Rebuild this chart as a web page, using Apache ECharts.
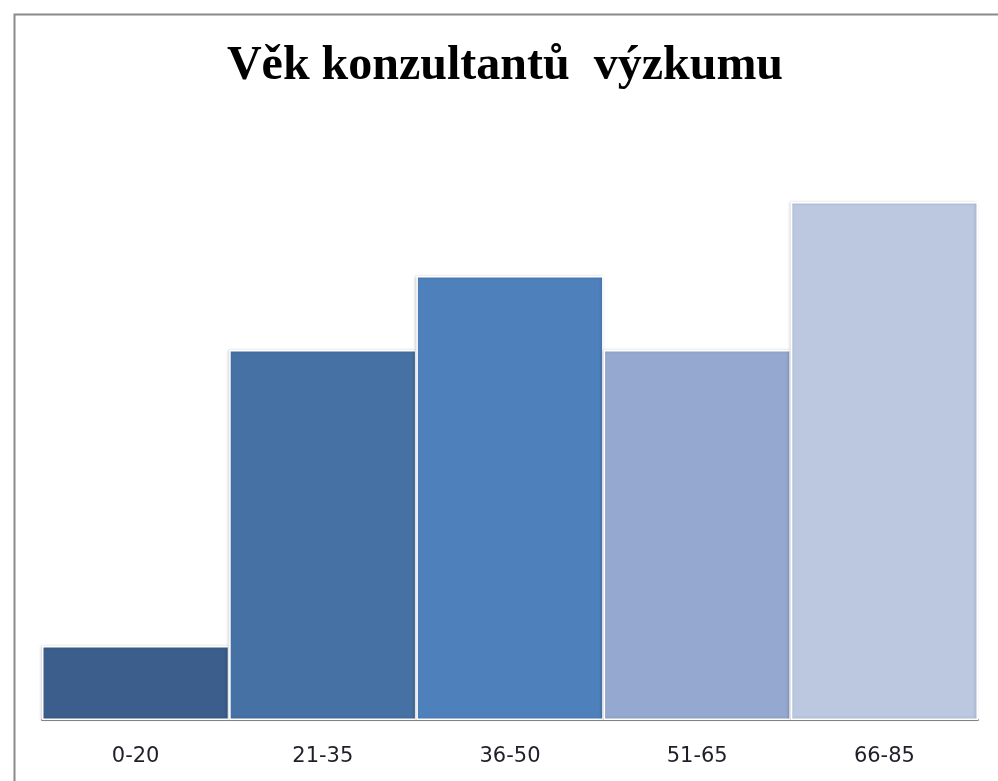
<!DOCTYPE html>
<html>
<head>
<meta charset="utf-8">
<script src="https://cdn.jsdelivr.net/npm/echarts@6/dist/echarts.min.js"></script>
<style>
  html, body { margin: 0; padding: 0; background: #fff; }
  #chart { width: 998px; height: 781px; }
</style>
</head>
<body>
<div id="chart"></div>
<script>
// Age groups of the research consultants and the head count in each
const categories = ['0-20', '21-35', '36-50', '51-65', '66-85'];
const counts = [1, 5, 6, 5, 7];
const barColors = ['#3B5E8C', '#4571A5', '#4E80BC', '#95A9D0', '#BBC8E0'];

const chart = echarts.init(document.getElementById('chart'));

chart.setOption({
  animation: false,
  backgroundColor: '#ffffff',
  title: {
    text: 'Věk konzultantů  výzkumu',
    left: 500,
    textAlign: 'center',
    top: 38,
    textStyle: {
      fontFamily: '"Liberation Serif", "DejaVu Serif", serif',
      fontWeight: 'bold',
      fontSize: 48,
      color: '#000'
    }
  },
  graphic: [{
    type: 'rect',
    shape: { x: 14.5, y: 14.5, width: 1100, height: 900 },
    style: { fill: 'none', stroke: '#8a8a8a', lineWidth: 2 },
    silent: true
  }],
  grid: { left: 42, right: 20, top: 128, bottom: 61 },
  xAxis: {
    type: 'category',
    data: categories,
    axisLine: { lineStyle: { color: '#8c8c8c', width: 2 } },
    axisTick: { show: false },
    axisLabel: {
      margin: 26,
      fontFamily: '"DejaVu Sans", Verdana, sans-serif',
      fontSize: 21,
      color: '#1f1f2a'
    }
  },
  yAxis: {
    type: 'value',
    min: 0,
    max: 8,
    show: false,
    splitLine: { show: false }
  },
  series: [{
    type: 'bar',
    barCategoryGap: 0,
    barWidth: '100%',
    data: counts.map((v, i) => ({ value: v, itemStyle: { color: barColors[i] } })),
    itemStyle: {
      borderColor: '#ffffff',
      borderWidth: 1.5,
      shadowColor: 'rgba(0,0,0,0.18)',
      shadowBlur: 3,
      shadowOffsetX: -1
    }
  }]
});
</script>
</body>
</html>
